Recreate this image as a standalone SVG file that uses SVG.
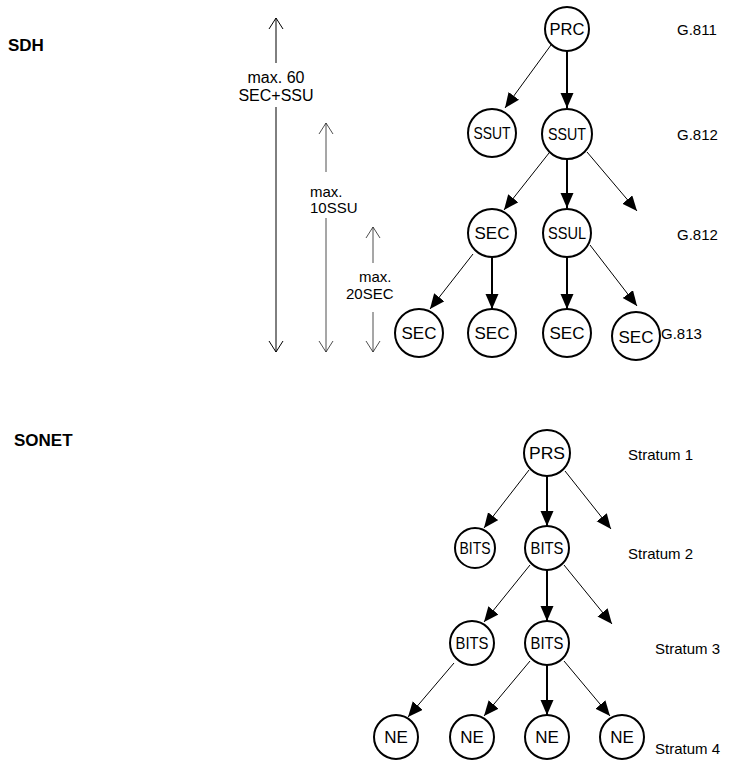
<svg xmlns="http://www.w3.org/2000/svg" width="737" height="764" viewBox="0 0 737 764">
<style>
.n{fill:#fff;stroke:#000;stroke-width:2}
.t{font-family:"Liberation Sans",Arial,sans-serif;font-size:17px;text-anchor:middle;dominant-baseline:central;fill:#000}
.l{font-family:"Liberation Sans",Arial,sans-serif;font-size:15px;fill:#000;dominant-baseline:central}
.s{font-family:"Liberation Sans",Arial,sans-serif;font-size:15px;fill:#000;dominant-baseline:central}
.h{font-family:"Liberation Sans",Arial,sans-serif;font-size:17px;font-weight:bold;fill:#000}
.d{font-family:"Liberation Sans",Arial,sans-serif;font-size:15px;fill:#000}
.a1{stroke:#000;stroke-width:1;fill:none;marker-end:url(#ah)}
.a2{stroke:#000;stroke-width:2;fill:none;marker-end:url(#ah)}
.dm{stroke:#000;stroke-width:1;fill:none}
.dm2{stroke:#222;stroke-width:0.8;fill:none}
</style>
<defs>
<marker id="ah" markerUnits="userSpaceOnUse" markerWidth="16" markerHeight="14" refX="15" refY="6.5" orient="auto">
<path d="M0,0 L15,6.5 L0,13 Z" fill="#000"/>
</marker>
</defs>

<text class="h" x="8" y="51">SDH</text>
<text class="h" x="14" y="446">SONET</text>

<g id="dimensions">
<path class="dm" d="M276,18 V63 M276,107 V352 M269,29 L276,18 L283,29 M269,341 L276,352 L283,341"/>
<text class="d" x="276" y="83" text-anchor="middle" style="font-size:16px">max. 60</text>
<text class="d" x="276" y="101" text-anchor="middle" style="font-size:16px">SEC+SSU</text>
<path class="dm2" d="M326,123 V172 M326,218 V352 M319,134 L326,123 L333,134 M319,341 L326,352 L333,341"/>
<text class="d" x="310" y="197">max.</text>
<text class="d" x="310" y="213">10SSU</text>
<path class="dm2" d="M373,227 V263 M373,312 V352 M366,238 L373,227 L380,238 M366,341 L373,352 L380,341"/>
<text class="d" x="359" y="282">max.</text>
<text class="d" x="346" y="299">20SEC</text>
</g>

<g id="connectors">
<line class="a1" x1="551" y1="45" x2="505" y2="108"/>
<line class="a2" x1="567" y1="51" x2="567" y2="108"/>
<line class="a1" x1="549" y1="153" x2="504" y2="210"/>
<line class="a2" x1="567" y1="159" x2="567" y2="208"/>
<line class="a1" x1="587" y1="152" x2="637" y2="211"/>
<line class="a1" x1="473" y1="254" x2="430" y2="309"/>
<line class="a2" x1="492" y1="257" x2="492" y2="309"/>
<line class="a2" x1="567" y1="257" x2="567" y2="309"/>
<line class="a1" x1="590" y1="245" x2="637" y2="306"/>

<line class="a1" x1="529" y1="470" x2="484" y2="528"/>
<line class="a2" x1="547" y1="476" x2="547" y2="526"/>
<line class="a1" x1="565" y1="471" x2="611" y2="529"/>
<line class="a1" x1="530" y1="565" x2="484" y2="622"/>
<line class="a2" x1="547" y1="570" x2="547" y2="621"/>
<line class="a1" x1="564" y1="565" x2="612" y2="624"/>
<line class="a1" x1="454" y1="663" x2="408" y2="717"/>
<line class="a1" x1="530" y1="661" x2="484" y2="716"/>
<line class="a2" x1="547" y1="665" x2="547" y2="715"/>
<line class="a1" x1="564" y1="661" x2="610" y2="716"/>
</g>

<g id="PRC"><circle class="n" cx="567" cy="29" r="22"/><text class="t" x="567" y="29" textLength="35" lengthAdjust="spacingAndGlyphs">PRC</text></g>
<g id="SSUT1"><circle class="n" cx="492" cy="133" r="24"/><text class="t" x="492" y="133" textLength="37" lengthAdjust="spacingAndGlyphs">SSUT</text></g>
<g id="SSUT2"><circle class="n" cx="567" cy="134" r="25"/><text class="t" x="567" y="134" textLength="38" lengthAdjust="spacingAndGlyphs">SSUT</text></g>
<g id="SEC1"><circle class="n" cx="492" cy="233" r="24"/><text class="t" x="492" y="233">SEC</text></g>
<g id="SSUL"><circle class="n" cx="567" cy="233" r="24"/><text class="t" x="567" y="233" textLength="38" lengthAdjust="spacingAndGlyphs">SSUL</text></g>
<g id="SEC2"><circle class="n" cx="419" cy="333" r="24"/><text class="t" x="419" y="333">SEC</text></g>
<g id="SEC3"><circle class="n" cx="492" cy="333" r="24"/><text class="t" x="492" y="333">SEC</text></g>
<g id="SEC4"><circle class="n" cx="567" cy="333" r="24"/><text class="t" x="567" y="333">SEC</text></g>
<g id="SEC5"><circle class="n" cx="636" cy="336" r="24"/><text class="t" x="636" y="337">SEC</text></g>

<text class="l" x="677" y="29">G.811</text>
<text class="l" x="677" y="134">G.812</text>
<text class="l" x="677" y="234">G.812</text>
<text class="l" x="661" y="333">G.813</text>

<g id="PRS"><circle class="n" cx="547" cy="453" r="23"/><text class="t" x="547" y="453" textLength="36" lengthAdjust="spacingAndGlyphs">PRS</text></g>
<g id="BITS1"><circle class="n" cx="475" cy="548" r="20"/><text class="t" x="475" y="548" textLength="31" lengthAdjust="spacingAndGlyphs">BITS</text></g>
<g id="BITS2"><circle class="n" cx="547" cy="548" r="22"/><text class="t" x="547" y="548" textLength="33" lengthAdjust="spacingAndGlyphs">BITS</text></g>
<g id="BITS3"><circle class="n" cx="472" cy="643" r="22"/><text class="t" x="472" y="643" textLength="33" lengthAdjust="spacingAndGlyphs">BITS</text></g>
<g id="BITS4"><circle class="n" cx="547" cy="643" r="22"/><text class="t" x="547" y="643" textLength="33" lengthAdjust="spacingAndGlyphs">BITS</text></g>
<g id="NE1"><circle class="n" cx="396" cy="737" r="22"/><text class="t" x="396" y="737">NE</text></g>
<g id="NE2"><circle class="n" cx="472" cy="737" r="22"/><text class="t" x="472" y="737">NE</text></g>
<g id="NE3"><circle class="n" cx="547" cy="737" r="22"/><text class="t" x="547" y="737">NE</text></g>
<g id="NE4"><circle class="n" cx="622" cy="737" r="22"/><text class="t" x="622" y="737">NE</text></g>

<text class="s" x="628" y="454">Stratum 1</text>
<text class="s" x="628" y="553">Stratum 2</text>
<text class="s" x="655" y="648">Stratum 3</text>
<text class="s" x="655" y="748">Stratum 4</text>
</svg>
